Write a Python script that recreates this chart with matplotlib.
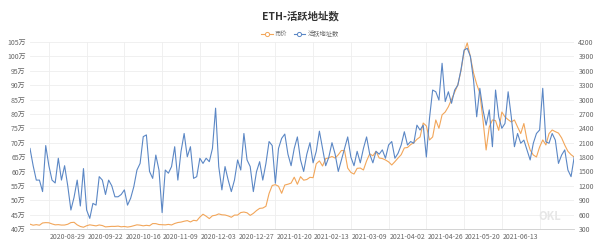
import matplotlib
matplotlib.use('Agg')
import matplotlib.pyplot as plt
from matplotlib.lines import Line2D
import pandas as pd

plt.rcParams['font.family'] = ['Noto Sans CJK SC', 'DejaVu Sans']

dates = pd.date_range('2020-08-05', periods=174, freq='2D').strftime('%Y-%m-%d').tolist()

# ETH price (right axis)
price = [
    401, 379, 391, 379, 426, 433, 430, 406, 387, 391, 382, 383, 399, 434,
    440, 386, 353, 337, 368, 387, 377, 365, 384, 372, 344, 349, 355, 354, 360,
    346, 353, 341, 351, 370, 387, 380, 366, 377, 368, 413, 412, 393, 389, 386,
    396, 384, 415, 435, 444, 462, 475, 447, 481, 471, 549, 608, 567, 517, 576,
    587, 615, 596, 592, 573, 545, 590, 591, 643, 654, 638, 584, 626, 684, 730, 737,
    774, 1041, 1208, 1225, 1192, 1045, 1217, 1234, 1257, 1380, 1233, 1391, 1318, 1332, 1378,
    1370, 1660, 1720, 1614, 1768, 1784, 1812, 1780, 1848, 1937, 1935, 1570, 1480, 1446,
    1565, 1571, 1531, 1720, 1868, 1826, 1921,
    1781, 1770, 1740, 1700, 1635, 1704, 1780, 1850, 1990, 2000, 2060, 2100, 2170, 2219,
    2510, 2450, 2157, 2219, 2574, 2400, 2680, 2740, 2850, 3000, 3150, 3304, 3600, 4000,
    4180, 3890, 3555, 3320, 3137, 2574, 1948, 2428, 2574, 2560, 2358, 2740, 2636, 2580,
    2532, 2574, 2428, 2290, 2500, 2157, 1948, 1843, 1802, 2010, 2157, 2053, 2290, 2365,
    2330, 2300, 2200, 2050, 1920, 1850, 1800,
]

# active addresses, in 万 (left axis)
active = [
    68, 62, 57, 57, 53, 69, 62, 57, 56, 64.6,
    57, 62, 55, 46.6, 51, 57, 48, 61, 46.6, 43.7,
    48.9, 48.3, 58.2, 57, 52, 57, 55, 51.2, 51.2, 52,
    53.6, 48.3, 50.7, 54.7, 60.5, 62.8, 72.1, 72.7, 60, 57.6,
    65.7, 60.5, 45.7, 60.5, 59.4, 61.7, 68.6, 57, 66.9, 73.2,
    65.1, 68.6, 57.6, 58.2, 64.6, 62.8, 64.6, 63.4, 68, 82,
    61.7, 53.6, 61.7, 57, 53, 57, 64, 60.5, 73.2, 64,
    61.7, 53, 59.9, 63.4, 57, 62.8, 70.4, 69, 55.9, 68,
    71.5, 73, 66, 62, 68, 72, 64, 60, 66, 70,
    63, 67, 74, 68, 62, 65, 70, 66, 60, 64,
    68, 72, 65, 62, 67, 63, 68, 72, 66, 63,
    67, 66, 67.5, 64.6, 69.2, 70.4, 64.6, 66.3, 69.2, 73.8,
    69.2, 70.4, 69.8, 76.1, 74.4, 76.1, 65, 78.5, 88.3, 87.7,
    84.8, 97.6, 84.3, 87.7, 83.7, 88.3, 90, 95.3, 102.2, 102.8,
    100, 91.8, 79, 88.9, 81.4, 76.1, 81.4, 68.6, 88.3, 79,
    75, 76.7, 87.7, 79, 68.6, 73.2, 69.8, 70.9, 67.5, 64,
    69.8, 73.2, 74.4, 88.9, 70.3, 69.8, 73.2, 70.9, 62.8, 65.7,
    67.5, 60.5, 58.2, 65,
]

tick_labels = ['2020-08-29', '2020-09-22', '2020-10-16', '2020-11-09', '2020-12-03',
               '2020-12-27', '2021-01-20', '2021-02-13', '2021-03-09', '2021-04-02',
               '2021-04-26', '2021-05-20', '2021-06-13']

left_ticks = list(range(40, 106, 5))
right_ticks = list(range(300, 4201, 300))

blue = '#5b87c5'
orange = '#f2a65a'
grid_c = '#eeeeee'
txt_c = '#666666'

fig = plt.figure(figsize=(6, 2.45), dpi=100)
ax = fig.add_axes([0.05, 0.0653, 0.907, 0.7633])
ax2 = ax.twinx()

x = list(range(len(dates)))
ax.plot(x, active, color=blue, lw=0.8, zorder=3)
ax2.plot(x, price, color=orange, lw=0.8, zorder=2)

ax.set_zorder(ax2.get_zorder() + 1)
ax.patch.set_visible(False)

ax.set_xlim(0, len(dates) - 1)
ax.set_ylim(40, 105)
ax2.set_ylim(300, 4200)
ax.set_yticks(left_ticks)
ax.set_yticklabels([f'{v}万' for v in left_ticks])
ax2.set_yticks(right_ticks)
ax2.set_yticklabels([str(v) for v in right_ticks])

tpos = [dates.index(t) for t in tick_labels]
ax.set_xticks(tpos)
ax.set_xticklabels(tick_labels)

for v in left_ticks:
    ax2.axhline(300 + (v - 40) / 65 * 3900, color=grid_c, lw=0.6, zorder=0)
for p in tpos:
    ax2.axvline(p - 6, color=grid_c, lw=0.6, zorder=0)
ax2.axvline(tpos[-1] + 6, color=grid_c, lw=0.6, zorder=0)

for a in (ax, ax2):
    for s in a.spines.values():
        s.set_visible(False)
    a.tick_params(length=0, labelsize=5, colors=txt_c, pad=3)
ax.spines['bottom'].set_visible(True)
ax.spines['bottom'].set_color('#cccccc')
ax.spines['bottom'].set_linewidth(0.6)

fig.text(0.5, 0.935, 'ETH-活跃地址数', ha='center', va='center', fontsize=7.5,
         fontweight='bold', color='#333333')

handles = [Line2D([0], [0], color=orange, lw=0.8, marker='o', markersize=3,
                  markerfacecolor='white', markeredgecolor=orange, markeredgewidth=0.7),
           Line2D([0], [0], color=blue, lw=0.8, marker='o', markersize=3,
                  markerfacecolor='white', markeredgecolor=blue, markeredgewidth=0.7)]
fig.legend(handles, ['币价', '活跃地址数'], loc='center', bbox_to_anchor=(0.5, 0.86),
           ncol=2, frameon=False, fontsize=4.5, handlelength=1.8, columnspacing=1.0,
           handletextpad=0.4, labelcolor=txt_c)

fig.text(0.935, 0.115, 'OKL', ha='right', va='center', fontsize=8, color='#e6e6e6',
         fontweight='bold')

fig.savefig('out.png', dpi=100)
